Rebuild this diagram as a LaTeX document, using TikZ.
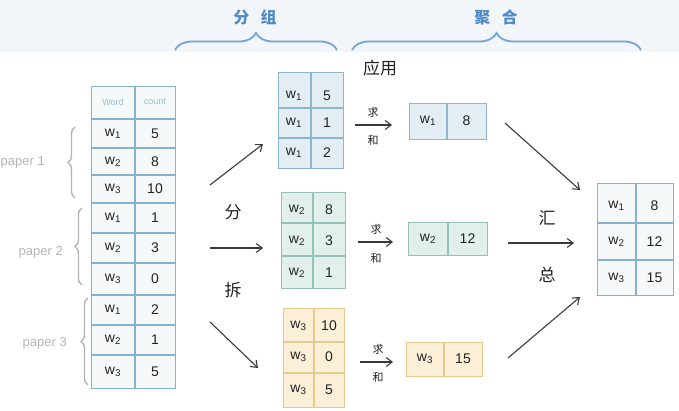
\documentclass[tikz,border=0pt]{standalone}
\usepackage{fontspec}
\setmainfont{Liberation Sans}
\newfontfamily\cjk{Noto Sans CJK SC}
\usetikzlibrary{arrows.meta,decorations.pathreplacing}
\definecolor{inkc}{HTML}{222222}
\definecolor{arrc}{HTML}{3A3A3A}
\definecolor{topband}{HTML}{F2F5F9}
\definecolor{headc}{HTML}{4F8BC9}
\definecolor{bracec}{HTML}{72A5D8}
\definecolor{paperc}{HTML}{B4B4B4}
\definecolor{lbord}{HTML}{86B3CB}
\definecolor{lfill}{HTML}{F6F9FA}
\definecolor{bfill}{HTML}{E3EEF4}
\definecolor{bbord}{HTML}{8CB6CC}
\definecolor{gfill}{HTML}{E2F0EC}
\definecolor{gbord}{HTML}{93C3B8}
\definecolor{yfill}{HTML}{FBEFD8}
\definecolor{ybord}{HTML}{E6C98E}
\definecolor{wordc}{HTML}{9DBACB}
\newcommand\wsub[1]{w\textsubscript{#1}}
\begin{document}
\begin{tikzpicture}[x=1pt,y=-1pt,
  cell/.style={font=\fontsize{14}{16}\selectfont, text=inkc, inner sep=0pt},
  tbox/.style={anchor=north west, inner sep=0pt, line width=1.1pt},
  grid/.style={line width=1.1pt},
  arr/.style={draw=arrc, line width=1.1pt, -{Straight Barb[length=6pt,width=9pt]}},
  hand/.style={font=\cjk\fontsize{17}{20}\selectfont, text=inkc, inner sep=0pt},
  smallc/.style={font=\cjk\fontsize{11}{13}\selectfont, text=inkc, inner sep=0pt},
  head/.style={font=\cjk\bfseries\fontsize{16}{18}\selectfont, text=headc, inner sep=0pt},
  hbrace/.style={draw=bracec, line width=1.8pt, decorate},
  pbrace/.style={draw=paperc, line width=1.4pt, decorate, decoration={brace, amplitude=7pt}},
  paper/.style={font=\fontsize{13}{15}\selectfont, text=paperc, anchor=east, inner sep=0pt},
]
\useasboundingbox (0,0) rectangle (679,411);
\fill[topband] (0,0) rectangle (679,52);

% headers
\node[head] (h1) at (255,17) {分\hspace{0.7em}组};
\node[head] (h2) at (496,17) {聚\hspace{0.7em}合};
\draw[hbrace, decoration={brace, amplitude=17pt}] (175,50) -- (337,50);
\draw[hbrace, decoration={brace, amplitude=17pt}] (352,50) -- (641,50);

% left table
\node[tbox, draw=lbord, fill=lfill, minimum width=84pt, minimum height=302pt] (lt) at (91,86) {};
\draw[grid, lbord] (135,86) -- (135,388);
\foreach \yy in {119,148,175,203,233,263,295,325,355} \draw[grid, lbord] (91,\yy) -- (175,\yy);
\node[font=\fontsize{9}{11}\selectfont, text=wordc] (lh1) at (113,102) {Word};
\node[font=\fontsize{9}{11}\selectfont, text=wordc] (lh2) at (155,102) {count};
\foreach \yy/\w/\n in {133.5/1/5, 161.5/2/8, 189/3/10, 218/1/1, 248/2/3, 279/3/0, 310/1/2, 340/2/1, 371.5/3/5}{
  \node[cell] at (113,\yy) {\wsub{\w}};
  \node[cell] at (155,\yy) {\n};
}

% paper braces and labels
\draw[pbrace] (75,198) -- (75,127);
\draw[pbrace] (82,285) -- (82,208);
\draw[pbrace] (88,385) -- (88,298);
\node[paper] (p1) at (45,162) {paper 1};
\node[paper] (p2) at (63,252) {paper 2};
\node[paper] (p3) at (67,343) {paper 3};

% group tables
\node[tbox, draw=bbord, fill=bfill, minimum width=65pt, minimum height=96pt] (g1) at (278,72) {};
\draw[grid, bbord] (311,72) -- (311,168) (278,108) -- (343,108) (278,138) -- (343,138);
\foreach \yy/\n in {96/5, 123/1, 153/2}{
  \node[cell] at (294,\yy) {\wsub{1}};
  \node[cell] at (327,\yy) {\n};
}
\node[tbox, draw=gbord, fill=gfill, minimum width=64pt, minimum height=96pt] (g2) at (281,192) {};
\draw[grid, gbord] (313,192) -- (313,288) (281,223) -- (345,223) (281,256) -- (345,256);
\foreach \yy/\n in {210/8, 241/3, 273/1}{
  \node[cell] at (297,\yy) {\wsub{2}};
  \node[cell] at (329,\yy) {\n};
}
\node[tbox, draw=ybord, fill=yfill, minimum width=61pt, minimum height=99pt] (g3) at (283,308) {};
\draw[grid, ybord] (314,308) -- (314,407) (283,342) -- (344,342) (283,373) -- (344,373);
\foreach \yy/\n in {326/10, 357/0, 390/5}{
  \node[cell] at (298.5,\yy) {\wsub{3}};
  \node[cell] at (329,\yy) {\n};
}

% sum result tables
\node[tbox, draw=bbord, fill=bfill, minimum width=77pt, minimum height=36pt] (r1) at (409,103) {};
\draw[grid, bbord] (447,103) -- (447,139);
\node[cell] at (428,121) {\wsub{1}};
\node[cell] at (466.5,121) {8};
\node[tbox, draw=gbord, fill=gfill, minimum width=79pt, minimum height=33pt] (r2) at (408,222) {};
\draw[grid, gbord] (448,222) -- (448,255);
\node[cell] at (428,239) {\wsub{2}};
\node[cell] at (467.5,239) {12};
\node[tbox, draw=ybord, fill=yfill, minimum width=76pt, minimum height=34pt] (r3) at (406,342) {};
\draw[grid, ybord] (444,342) -- (444,376);
\node[cell] at (425,359) {\wsub{3}};
\node[cell] at (463,359) {15};

% final table
\node[tbox, draw=lbord, fill=lfill, minimum width=76pt, minimum height=112pt] (ft) at (597,183) {};
\draw[grid, lbord] (636,183) -- (636,295) (597,223) -- (673,223) (597,260) -- (673,260);
\foreach \yy/\w/\n in {206/1/8, 242/2/12, 278/3/15}{
  \node[cell] at (616.5,\yy) {\wsub{\w}};
  \node[cell] at (654.5,\yy) {\n};
}

% split arrows
\coordinate (a1s) at (210,185); \coordinate (a1e) at (263,144);
\coordinate (a2s) at (210,248); \coordinate (a2e) at (263,248);
\coordinate (a3s) at (210,322); \coordinate (a3e) at (258,368);
\draw[arr] (a1s) -- (a1e);
\draw[arr] (a2s) -- (a2e);
\draw[arr] (a3s) -- (a3e);
\node[hand] (fen) at (233,212) {分};
\node[hand] (chai) at (233,290) {拆};
\node[hand] (yy) at (380,68) {应用};

% sum arrows
\coordinate (s1s) at (355,125); \coordinate (s1e) at (392,125);
\coordinate (s2s) at (358,242); \coordinate (s2e) at (393,242);
\coordinate (s3s) at (360,362); \coordinate (s3e) at (393,362);
\draw[arr] (s1s) -- (s1e);
\draw[arr] (s2s) -- (s2e);
\draw[arr] (s3s) -- (s3e);
\node[smallc] (q1) at (373,112) {求};
\node[smallc] (h1b) at (373,140) {和};
\node[smallc] (q2) at (376,229) {求};
\node[smallc] (h2b) at (376,258) {和};
\node[smallc] (q3) at (378,349) {求};
\node[smallc] (h3b) at (378,377) {和};

% converge arrows
\coordinate (c1s) at (505,123); \coordinate (c1e) at (580,190);
\coordinate (c2s) at (508,243); \coordinate (c2e) at (574,243);
\coordinate (c3s) at (508,358); \coordinate (c3e) at (580,297);
\draw[arr] (c1s) -- (c1e);
\draw[arr] (c2s) -- (c2e);
\draw[arr] (c3s) -- (c3e);
\node[hand] (hui) at (547,218) {汇};
\node[hand] (zong) at (547,275) {总};
\end{tikzpicture}
\end{document}
